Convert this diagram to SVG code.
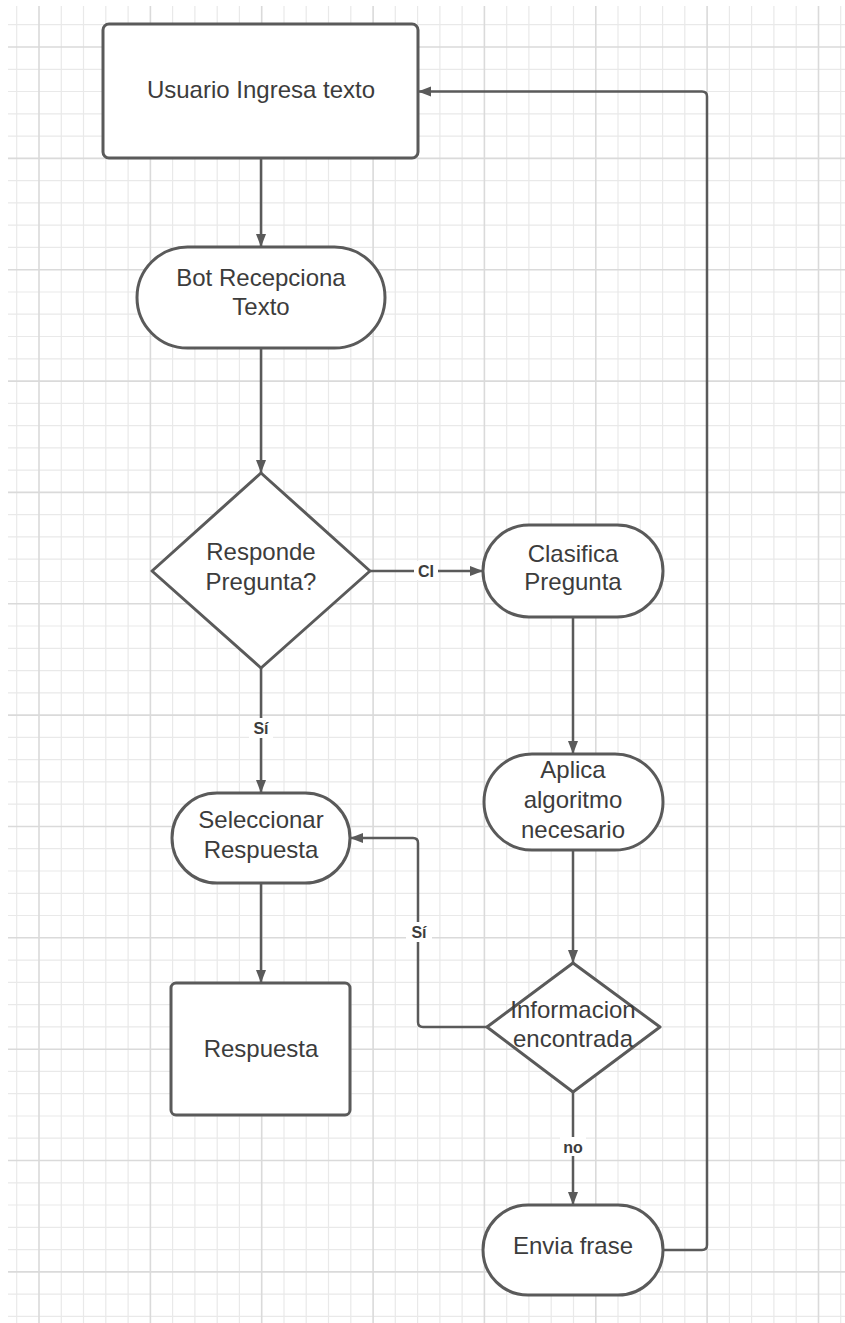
<svg xmlns="http://www.w3.org/2000/svg" width="845" height="1323" viewBox="0 0 845 1323">
  <style>
    .grid-minor { fill: none; stroke: #e9e9e9; stroke-width: 1.2; }
    .grid-major { fill: none; stroke: #dadada; stroke-width: 1.6; }
    .node { fill: #ffffff; stroke: #5a5a5a; stroke-width: 3; }
    .txt { font-family: "Liberation Sans", Arial, sans-serif; font-size: 24px; fill: #3c3c3c; text-anchor: middle; }
    .edge { fill: none; stroke: #5a5a5a; stroke-width: 2.5; }
    .elbl { font-family: "Liberation Sans", Arial, sans-serif; font-size: 16px; font-weight: bold; fill: #3c3c3c; text-anchor: middle; }
    .lblbg { fill: #ffffff; }
  </style>
  <defs>
    <marker id="arrow" markerUnits="userSpaceOnUse" markerWidth="14" markerHeight="11" refX="13" refY="5" orient="auto">
      <path d="M0,0 L13,5 L0,10 z" fill="#5a5a5a"/>
    </marker>
  </defs>

  <rect x="0" y="0" width="845" height="1323" fill="#ffffff"/>

  <!-- background grid: minor lines every 22.27px, major every fifth -->
  <g id="grid">
    <path class="grid-minor" d="
      M16.7,6 V1323 M61.3,6 V1323 M83.5,6 V1323 M105.8,6 V1323 M128.1,6 V1323
      M172.6,6 V1323 M194.9,6 V1323 M217.2,6 V1323 M239.4,6 V1323
      M284,6 V1323 M306.2,6 V1323 M328.5,6 V1323 M350.8,6 V1323
      M395.3,6 V1323 M417.6,6 V1323 M439.9,6 V1323 M462.1,6 V1323
      M506.7,6 V1323 M528.9,6 V1323 M551.2,6 V1323 M573.5,6 V1323
      M618,6 V1323 M640.3,6 V1323 M662.6,6 V1323 M684.8,6 V1323
      M729.4,6 V1323 M751.6,6 V1323 M773.9,6 V1323 M796.2,6 V1323
      M840.7,6 V1323
      M8,24.7 H845 M8,69.3 H845 M8,91.5 H845 M8,113.8 H845 M8,136.1 H845
      M8,180.6 H845 M8,202.9 H845 M8,225.2 H845 M8,247.4 H845
      M8,292 H845 M8,314.2 H845 M8,336.5 H845 M8,358.8 H845
      M8,403.3 H845 M8,425.6 H845 M8,447.9 H845 M8,470.1 H845
      M8,514.7 H845 M8,536.9 H845 M8,559.2 H845 M8,581.5 H845
      M8,626 H845 M8,648.3 H845 M8,670.6 H845 M8,692.8 H845
      M8,737.4 H845 M8,759.6 H845 M8,781.9 H845 M8,804.2 H845
      M8,848.7 H845 M8,871 H845 M8,893.3 H845 M8,915.5 H845
      M8,960.1 H845 M8,982.3 H845 M8,1004.6 H845 M8,1026.9 H845
      M8,1071.4 H845 M8,1093.7 H845 M8,1116 H845 M8,1138.2 H845
      M8,1182.8 H845 M8,1205 H845 M8,1227.3 H845 M8,1249.6 H845
      M8,1294.1 H845 M8,1316.4 H845"/>
    <path class="grid-major" d="
      M39,6 V1323 M150.4,6 V1323 M261.7,6 V1323 M373.1,6 V1323
      M484.4,6 V1323 M595.8,6 V1323 M707.1,6 V1323 M818.5,6 V1323
      M8,47 H845 M8,158.4 H845 M8,269.7 H845 M8,381.1 H845
      M8,492.4 H845 M8,603.8 H845 M8,715.1 H845 M8,826.5 H845
      M8,937.8 H845 M8,1049.2 H845 M8,1160.5 H845 M8,1271.9 H845"/>
  </g>

  <!-- connectors -->
  <g id="connectors">
    <path class="edge" d="M261,158 V247" marker-end="url(#arrow)"/>
    <path class="edge" d="M261,348 V473" marker-end="url(#arrow)"/>
    <path class="edge" d="M370,571 H483" marker-end="url(#arrow)"/>
    <path class="edge" d="M261,668 V793" marker-end="url(#arrow)"/>
    <path class="edge" d="M261,883 V983" marker-end="url(#arrow)"/>
    <path class="edge" d="M573,617 V754" marker-end="url(#arrow)"/>
    <path class="edge" d="M573,850 V963" marker-end="url(#arrow)"/>
    <path class="edge" d="M487,1027 H423 Q418,1027 418,1022 V843 Q418,838 413,838 H350" marker-end="url(#arrow)"/>
    <path class="edge" d="M573,1092 V1205" marker-end="url(#arrow)"/>
    <path class="edge" d="M663,1250 H702 Q707,1250 707,1245 V96.5 Q707,91.5 702,91.5 H418" marker-end="url(#arrow)"/>

    <rect class="lblbg" x="414" y="561" width="24" height="19"/>
    <text class="elbl" x="426" y="577">CI</text>
    <rect class="lblbg" x="249" y="718" width="24" height="20"/>
    <text class="elbl" x="261" y="734">Sí</text>
    <rect class="lblbg" x="406" y="922" width="26" height="20"/>
    <text class="elbl" x="419" y="938">Sí</text>
    <rect class="lblbg" x="560" y="1137" width="26" height="19"/>
    <text class="elbl" x="573" y="1153">no</text>
  </g>

  <g id="usuario-ingresa">
    <rect class="node" x="103" y="24" width="315" height="134" rx="6"/>
    <text class="txt" x="261" y="98">Usuario Ingresa texto</text>
  </g>

  <g id="bot-recepciona">
    <rect class="node" x="137" y="247" width="248" height="101" rx="50.5"/>
    <text class="txt" x="261" y="286">Bot Recepciona</text>
    <text class="txt" x="261" y="315">Texto</text>
  </g>

  <g id="responde-pregunta">
    <path class="node" d="M261,473 L370,571 L261,668 L152,571 Z" stroke-linejoin="round"/>
    <text class="txt" x="261" y="560">Responde</text>
    <text class="txt" x="261" y="590">Pregunta?</text>
  </g>

  <g id="clasifica-pregunta">
    <rect class="node" x="483" y="525" width="180" height="92" rx="46"/>
    <text class="txt" x="573" y="562">Clasifica</text>
    <text class="txt" x="573" y="590">Pregunta</text>
  </g>

  <g id="aplica-algoritmo">
    <rect class="node" x="484" y="754" width="179" height="96" rx="48"/>
    <text class="txt" x="573" y="778">Aplica</text>
    <text class="txt" x="573" y="808">algoritmo</text>
    <text class="txt" x="573" y="838">necesario</text>
  </g>

  <g id="seleccionar-respuesta">
    <rect class="node" x="172" y="793" width="178" height="90" rx="45"/>
    <text class="txt" x="261" y="828">Seleccionar</text>
    <text class="txt" x="261" y="858">Respuesta</text>
  </g>

  <g id="respuesta">
    <rect class="node" x="171" y="983" width="179" height="132" rx="5"/>
    <text class="txt" x="261" y="1057">Respuesta</text>
  </g>

  <g id="informacion-encontrada">
    <path class="node" d="M573,963 L660,1027 L573,1092 L487,1027 Z" stroke-linejoin="round"/>
    <text class="txt" x="573" y="1018">Informacion</text>
    <text class="txt" x="573" y="1047">encontrada</text>
  </g>

  <g id="envia-frase">
    <rect class="node" x="483" y="1205" width="180" height="90" rx="45"/>
    <text class="txt" x="573" y="1254">Envia frase</text>
  </g>
</svg>
